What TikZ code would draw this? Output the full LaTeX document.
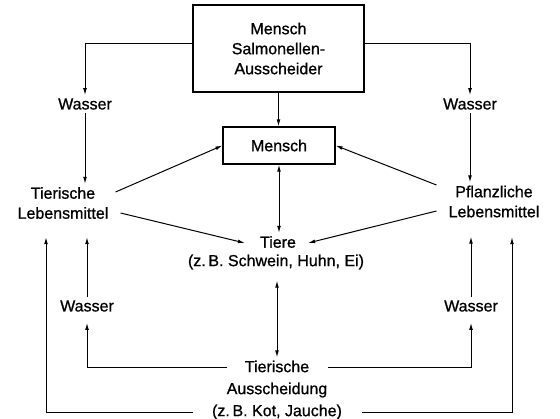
\documentclass[tikz,border=0pt]{standalone}
\usepackage{fontspec}
\setmainfont{Liberation Sans}
\newfontfamily\heavysans{Liberation Sans}[FakeBold=0.9]
\usetikzlibrary{arrows.meta,calc}
\begin{document}
\begin{tikzpicture}[x=1pt,y=-1pt,
  every node/.style={font=\heavysans\fontsize{16}{20}\selectfont, align=center, inner sep=3pt},
  boxnode/.style={draw, line width=1.1pt},
  conn/.style={line width=1pt, -{Latex[length=7pt,width=3.8pt]}},
  biconn/.style={line width=1pt, {Latex[length=7pt,width=3.8pt]}-{Latex[length=7pt,width=3.8pt]}}]
\useasboundingbox (0,0) rectangle (560,418);
\node[boxnode, minimum width=171pt, minimum height=87pt] (top) at (278.5,48.5) {Mensch\\Salmonellen-\\Ausscheider};
\node[boxnode, minimum width=112pt, minimum height=37pt] (mensch) at (279,145.5) {Mensch};
\node (w1) at (85,104) {Wasser};
\node (w2) at (470,104) {Wasser};
\node (tl) at (63,203) {Tierische\\Lebensmittel};
\node (pl) at (494,201.5) {Pflanzliche\\Lebensmittel};
\node (tiere) at (278,242) {Tiere};
\node (bsp) at (276,262) {(z.\,B. Schwein, Huhn, Ei)};
\node (w3) at (87,306) {Wasser};
\node (w4) at (471,306) {Wasser};
\node[font=\heavysans\fontsize{16}{22}\selectfont] (aus) at (277,390) {Tierische\\Ausscheidung\\(z.\,B. Kot, Jauche)};
% top part
\draw[conn] ($(top.west)+(0,-5.5)$) -| (w1.north);
\draw[conn] ($(top.east)+(0,-5.5)$) -| (w2.north);
\draw[conn] (top.south) -- (top.south |- mensch.north);
\draw[conn] (w1.south) -- (w1.south |- tl.north);
\draw[conn] (w2.south) -- (w2.south |- pl.north);
% to Mensch and Tiere
\draw[conn] ($(tl.east)+(4,-11)$) -- (mensch.west);
\draw[conn] ($(tl.east)+(9,10)$) -- ($(tiere.west)+(-12,1)$);
\draw[conn] ($(pl.west)+(-9,-16.5)$) -- (mensch.east);
\draw[conn] ($(pl.west)+(-9,9.5)$) -- ($(tiere.east)+(9,1)$);
\draw[biconn] (mensch.south) -- (mensch.south |- tiere.north);
\draw[biconn, shorten <=8pt] (aus.north |- bsp.south) -- (aus.north);
% bottom part
\draw[conn, shorten >=8pt] ($(aus.center)+(-50,-23)$) -| (w3.south);
\draw[conn, shorten >=8pt] ($(aus.center)+(51,-23)$) -| (w4.south);
\draw[conn, shorten >=15pt] (w3.north) -- (w3.north |- tl.south);
\draw[conn, shorten >=16pt] (w4.north) -- (w4.north |- pl.south);
\draw[conn] ($(aus.center)+(-84,22)$) -| ($(tl.south)+(-17,15)$);
\draw[conn] ($(aus.center)+(85,22)$) -| ($(pl.south)+(18,16.5)$);
\end{tikzpicture}
\end{document}
